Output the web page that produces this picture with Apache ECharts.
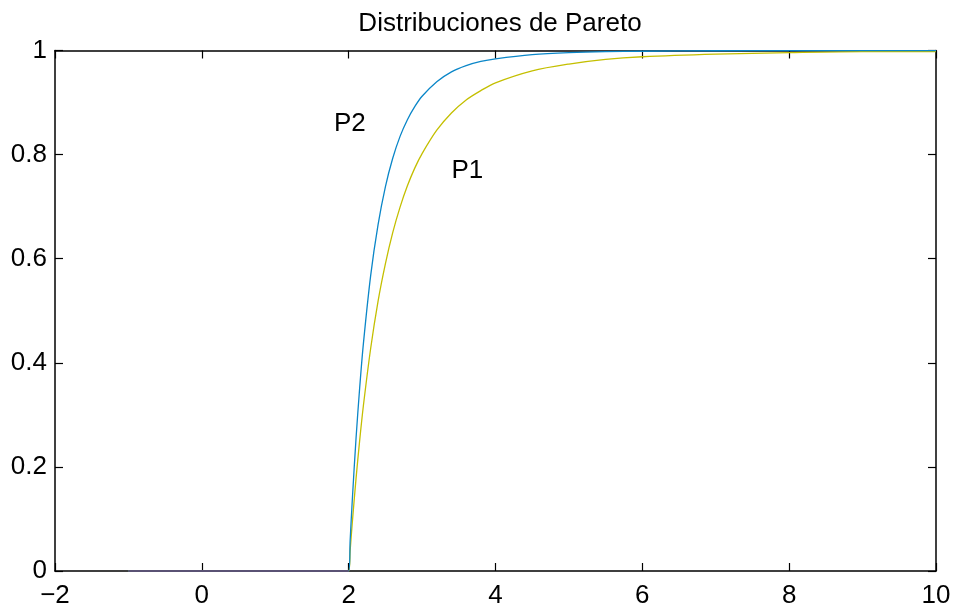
<!DOCTYPE html>
<html>
<head>
<meta charset="utf-8">
<title>Distribuciones de Pareto</title>
<script src="https://cdn.jsdelivr.net/npm/echarts@6/dist/echarts.min.js"></script>
<style>
  html, body { margin: 0; padding: 0; background: #fff; }
  #chart { width: 954px; height: 609px; }
</style>
</head>
<body>
<div id="chart"></div>
<script>
// Sample points of the two cumulative distributions
const xs = [-1, 2, 2.02, 2.05, 2.1, 2.15, 2.2, 2.3, 2.4, 2.5, 2.6, 2.7, 2.8, 2.9, 3.0,
            3.2, 3.4, 3.6, 3.8, 4.0, 4.5, 5, 5.5, 6, 7, 8, 9, 10];
const p1 = [0, 0, 0.039, 0.094, 0.177, 0.251, 0.317, 0.428, 0.518, 0.590, 0.650, 0.699,
            0.740, 0.774, 0.802, 0.847, 0.880, 0.905, 0.923, 0.938, 0.961, 0.974, 0.983,
            0.988, 0.993, 0.996, 0.998, 0.998];
const p2 = [0, 0, 0.058, 0.138, 0.254, 0.352, 0.436, 0.568, 0.665, 0.738, 0.793, 0.835,
            0.867, 0.892, 0.912, 0.940, 0.959, 0.971, 0.979, 0.984, 0.992, 0.996, 0.998,
            0.9986, 0.9995, 0.9998, 0.9999, 0.9999];
// Flat part where both curves sit on zero
const baseX = [-1, 2];
const baseY = [0, 0];

// Tick labels
const xTickLabels = ['\u22122', '0', '2', '4', '6', '8', '10'];
const yTickLabels = ['0', '0.2', '0.4', '0.6', '0.8', '1'];

// Curve annotations: [x, y, text]
const curveNames = [[1.8, 0.86, 'P2'], [3.4, 0.768, 'P1']];

const FONT = 'Liberation Sans, Arial, Helvetica, sans-serif';
const FS = 26;

const zip = (a, b) => a.map((v, i) => [v, b[i]]);

const axisCommon = {
  axisLine: { show: true, onZero: false, lineStyle: { color: '#000', width: 1.5 } },
  axisTick: { show: true, inside: true, length: 8, lineStyle: { color: '#000', width: 1.2 } },
  splitLine: { show: false }
};

const chart = echarts.init(document.getElementById('chart'), null, { renderer: 'canvas' });
chart.setOption({
  animation: false,
  backgroundColor: '#fff',
  title: {
    text: 'Distribuciones de Pareto',
    left: 495, textAlign: 'center', top: 6,
    textStyle: { fontFamily: FONT, fontSize: FS, fontWeight: 'normal', color: '#000' }
  },
  grid: { left: 55, right: 18, top: 50.5, bottom: 37.5, containLabel: false },
  xAxis: [
    Object.assign({
      type: 'value', min: -2, max: 10, interval: 2, position: 'bottom',
      axisLabel: {
        margin: 12, color: '#000', fontFamily: FONT, fontSize: FS,
        formatter: (v) => xTickLabels[Math.round((v + 2) / 2)]
      }
    }, axisCommon),
    Object.assign({
      type: 'value', min: -2, max: 10, interval: 2, position: 'top',
      axisLabel: { show: false }
    }, axisCommon)
  ],
  yAxis: [
    Object.assign({
      type: 'value', min: 0, max: 1, interval: 0.2, position: 'left',
      axisLabel: {
        margin: 8, color: '#000', fontFamily: FONT, fontSize: FS,
        formatter: (v) => yTickLabels[Math.round(v * 5)]
      }
    }, axisCommon),
    Object.assign({
      type: 'value', min: 0, max: 1, interval: 0.2, position: 'right',
      axisLabel: { show: false }
    }, axisCommon)
  ],
  series: [
    {
      name: 'P1', type: 'line', data: zip(xs, p1), showSymbol: false, smooth: 0.3,
      lineStyle: { color: '#c4bf00', width: 1.3 }, z: 3
    },
    {
      name: 'P2', type: 'line', data: zip(xs, p2), showSymbol: false, smooth: 0.3,
      lineStyle: { color: '#0a86c8', width: 1.3 }, z: 3
    },
    {
      name: 'base', type: 'line', data: zip(baseX, baseY), showSymbol: false,
      lineStyle: { color: '#5a5274', width: 1.8 }, z: 4
    },
    {
      name: 'names', type: 'scatter', symbolSize: 0, z: 5,
      itemStyle: { opacity: 1 },
      data: curveNames.map(d => ({ value: [d[0], d[1]], name: d[2] })),
      label: {
        show: true, position: 'inside', align: 'left', verticalAlign: 'middle',
        formatter: (p) => p.name, opacity: 1,
        color: '#000', fontFamily: FONT, fontSize: FS
      }
    }
  ]
});
</script>
</body>
</html>
